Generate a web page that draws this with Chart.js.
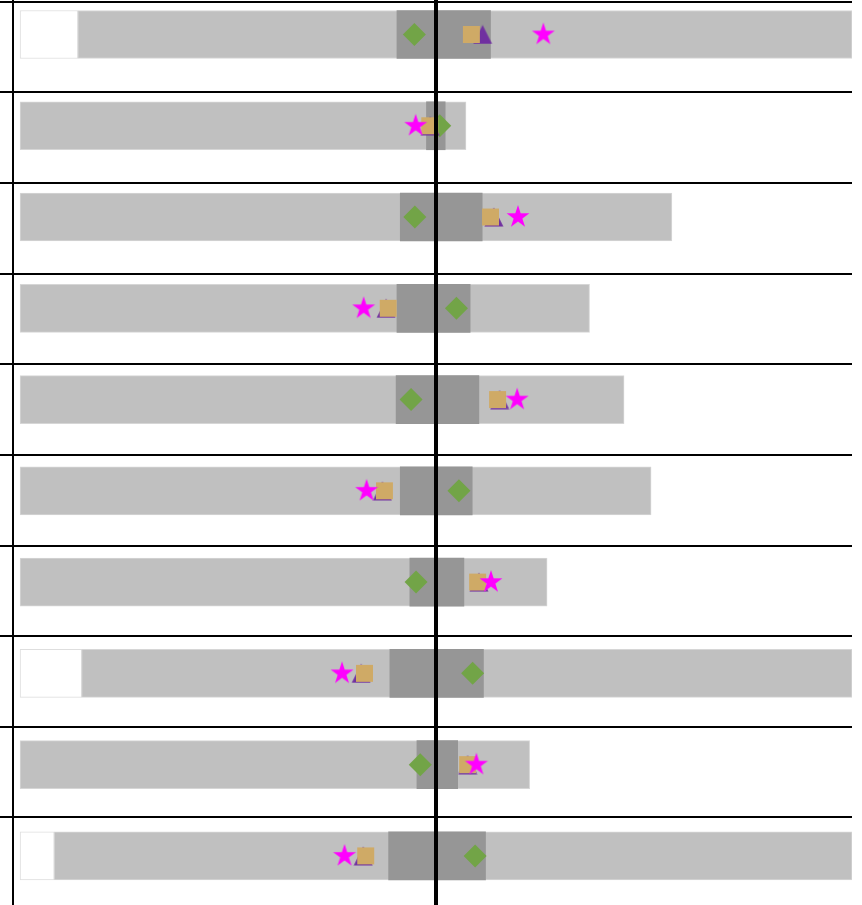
<!DOCTYPE html>
<html>
<head>
<meta charset="utf-8">
<script src="https://cdn.jsdelivr.net/npm/chart.js@4"></script>
<style>
  html, body { margin: 0; padding: 0; background: #fff; }
  #wrap { width: 862px; height: 905px; position: relative; }
</style>
</head>
<body>
<div id="wrap"><canvas id="chart"></canvas></div>
<script>
// rows, top to bottom
const rows = [0, 1, 2, 3, 4, 5, 6, 7, 8, 9];

// bar segments [start, end]
const whiteBars = [[-100, -86.1], null, null, null, null, null, null, [-100, -85.2], null, [-100, -91.8]];
const outerBars = [[-86.1, 100], [-100, 7.2], [-100, 56.7], [-100, 36.9], [-100, 45.2],
                   [-100, 51.7], [-100, 26.7], [-85.2, 100], [-100, 22.5], [-91.8, 100]];
const innerBars = [[-9.4, 13.1], [-2.3, 2.2], [-8.6, 11.1], [-9.4, 8.2], [-9.6, 10.3],
                   [-8.6, 8.7], [-6.3, 6.7], [-11.1, 11.4], [-4.6, 5.2], [-11.4, 11.9]];

// marker positions
const diamondVals  = [-5.2, 0.9, -5.1, 4.9, -6.0, 5.5, -4.8, 8.8, -3.8, 9.4];
const squareVals   = [8.5, -1.5, 13.1, -11.5, 14.8, -12.4, 10.0, -17.2, 7.6, -16.9];
const triangleVals = [11.2, -1.4, 13.9, -12.0, 15.3, -12.9, 10.3, -18.0, 7.6, -17.5];
const starVals     = [25.8, -4.9, 19.7, -17.4, 19.5, -16.7, 13.2, -22.6, 9.7, -22.0];

function segs(list) {
    return list.map((s, i) => s ? { x: s, y: rows[i] } : null).filter(Boolean);
}

function points(vals) {
    return vals.map((v, i) => ({ x: v, y: rows[i] }));
}

function starImage(color, r) {
    const c = document.createElement('canvas');
    const s = 2 * r + 2;
    c.width = s;
    c.height = s;
    const ctx = c.getContext('2d');
    ctx.fillStyle = color;
    ctx.beginPath();
    for (let k = 0; k < 10; k++) {
        const rad = k % 2 ? r * 0.382 : r;
        const a = -Math.PI / 2 + k * Math.PI / 5;
        const px = s / 2 + rad * Math.cos(a);
        const py = s / 2 + rad * Math.sin(a);
        if (k === 0) ctx.moveTo(px, py); else ctx.lineTo(px, py);
    }
    ctx.closePath();
    ctx.fill();
    return c;
}

function triangleImage(color, size) {
    const c = document.createElement('canvas');
    c.width = size + 1;
    c.height = size + 1;
    const ctx = c.getContext('2d');
    ctx.fillStyle = color;
    ctx.beginPath();
    ctx.moveTo((size + 1) / 2, 0.5);
    ctx.lineTo(size + 0.5, size + 0.5);
    ctx.lineTo(0.5, size + 0.5);
    ctx.closePath();
    ctx.fill();
    return c;
}

const barCommon = {
    type: 'bar',
    indexAxis: 'y',
    grouped: false,
    barThickness: 48,
    borderSkipped: false,
    xAxisID: 'x',
    yAxisID: 'y'
};

new Chart(document.getElementById('chart'), {
    type: 'bar',
    data: {
        datasets: [
            { type: 'scatter', order: 1, data: points(starVals), pointStyle: starImage('#ff00ff', 12), xAxisID: 'x', yAxisID: 'y' },
            { type: 'scatter', order: 2, data: points(squareVals), pointStyle: 'rect', pointRadius: 12,
              backgroundColor: '#cfaa66', borderWidth: 0, xAxisID: 'x', yAxisID: 'y' },
            { type: 'scatter', order: 3, data: points(triangleVals), pointStyle: triangleImage('#7030a0', 19), xAxisID: 'x', yAxisID: 'y' },
            { type: 'scatter', order: 4, data: points(diamondVals), pointStyle: 'rectRot', pointRadius: 11.5,
              backgroundColor: '#72a447', borderWidth: 0, xAxisID: 'x', yAxisID: 'y' },
            { ...barCommon, order: 5, data: segs(innerBars), backgroundColor: '#969696', borderWidth: 0 },
            { ...barCommon, order: 6, data: segs(outerBars), backgroundColor: '#c0c0c0', borderColor: '#d6d6d6', borderWidth: 1 },
            { ...barCommon, order: 7, data: segs(whiteBars), backgroundColor: '#ffffff', borderColor: '#dedede', borderWidth: 1 }
        ]
    },
    options: {
        responsive: true,
        maintainAspectRatio: false,
        animation: false,
        devicePixelRatio: 1,
        layout: { autoPadding: false, padding: { left: 0, right: 10, top: 0, bottom: 0 } },
        plugins: { legend: { display: false }, tooltip: { enabled: false } },
        scales: {
            x: {
                type: 'linear', min: -101.7, max: 100, position: 'bottom', offset: false,
                afterBuildTicks: s => { s.ticks = [{ value: 0 }]; },
                ticks: { display: false },
                border: { display: false },
                grid: { color: '#000', lineWidth: 4, drawTicks: false, offset: false, z: 1 }
            },
            y: { type: 'linear', display: false, reverse: true, offset: false, min: -0.378, max: 9.538 },
            rows: {
                type: 'linear', axis: 'y', position: 'left', reverse: true, offset: false, min: -0.0188, max: 9.966,
                afterBuildTicks: s => { s.ticks = rows.map(v => ({ value: v })); },
                ticks: { display: false },
                border: { display: true, color: '#000', width: 2 },
                grid: { color: '#000', lineWidth: 2, tickLength: 13, drawTicks: true, offset: false }
            }
        }
    }
});
</script>
</body>
</html>
